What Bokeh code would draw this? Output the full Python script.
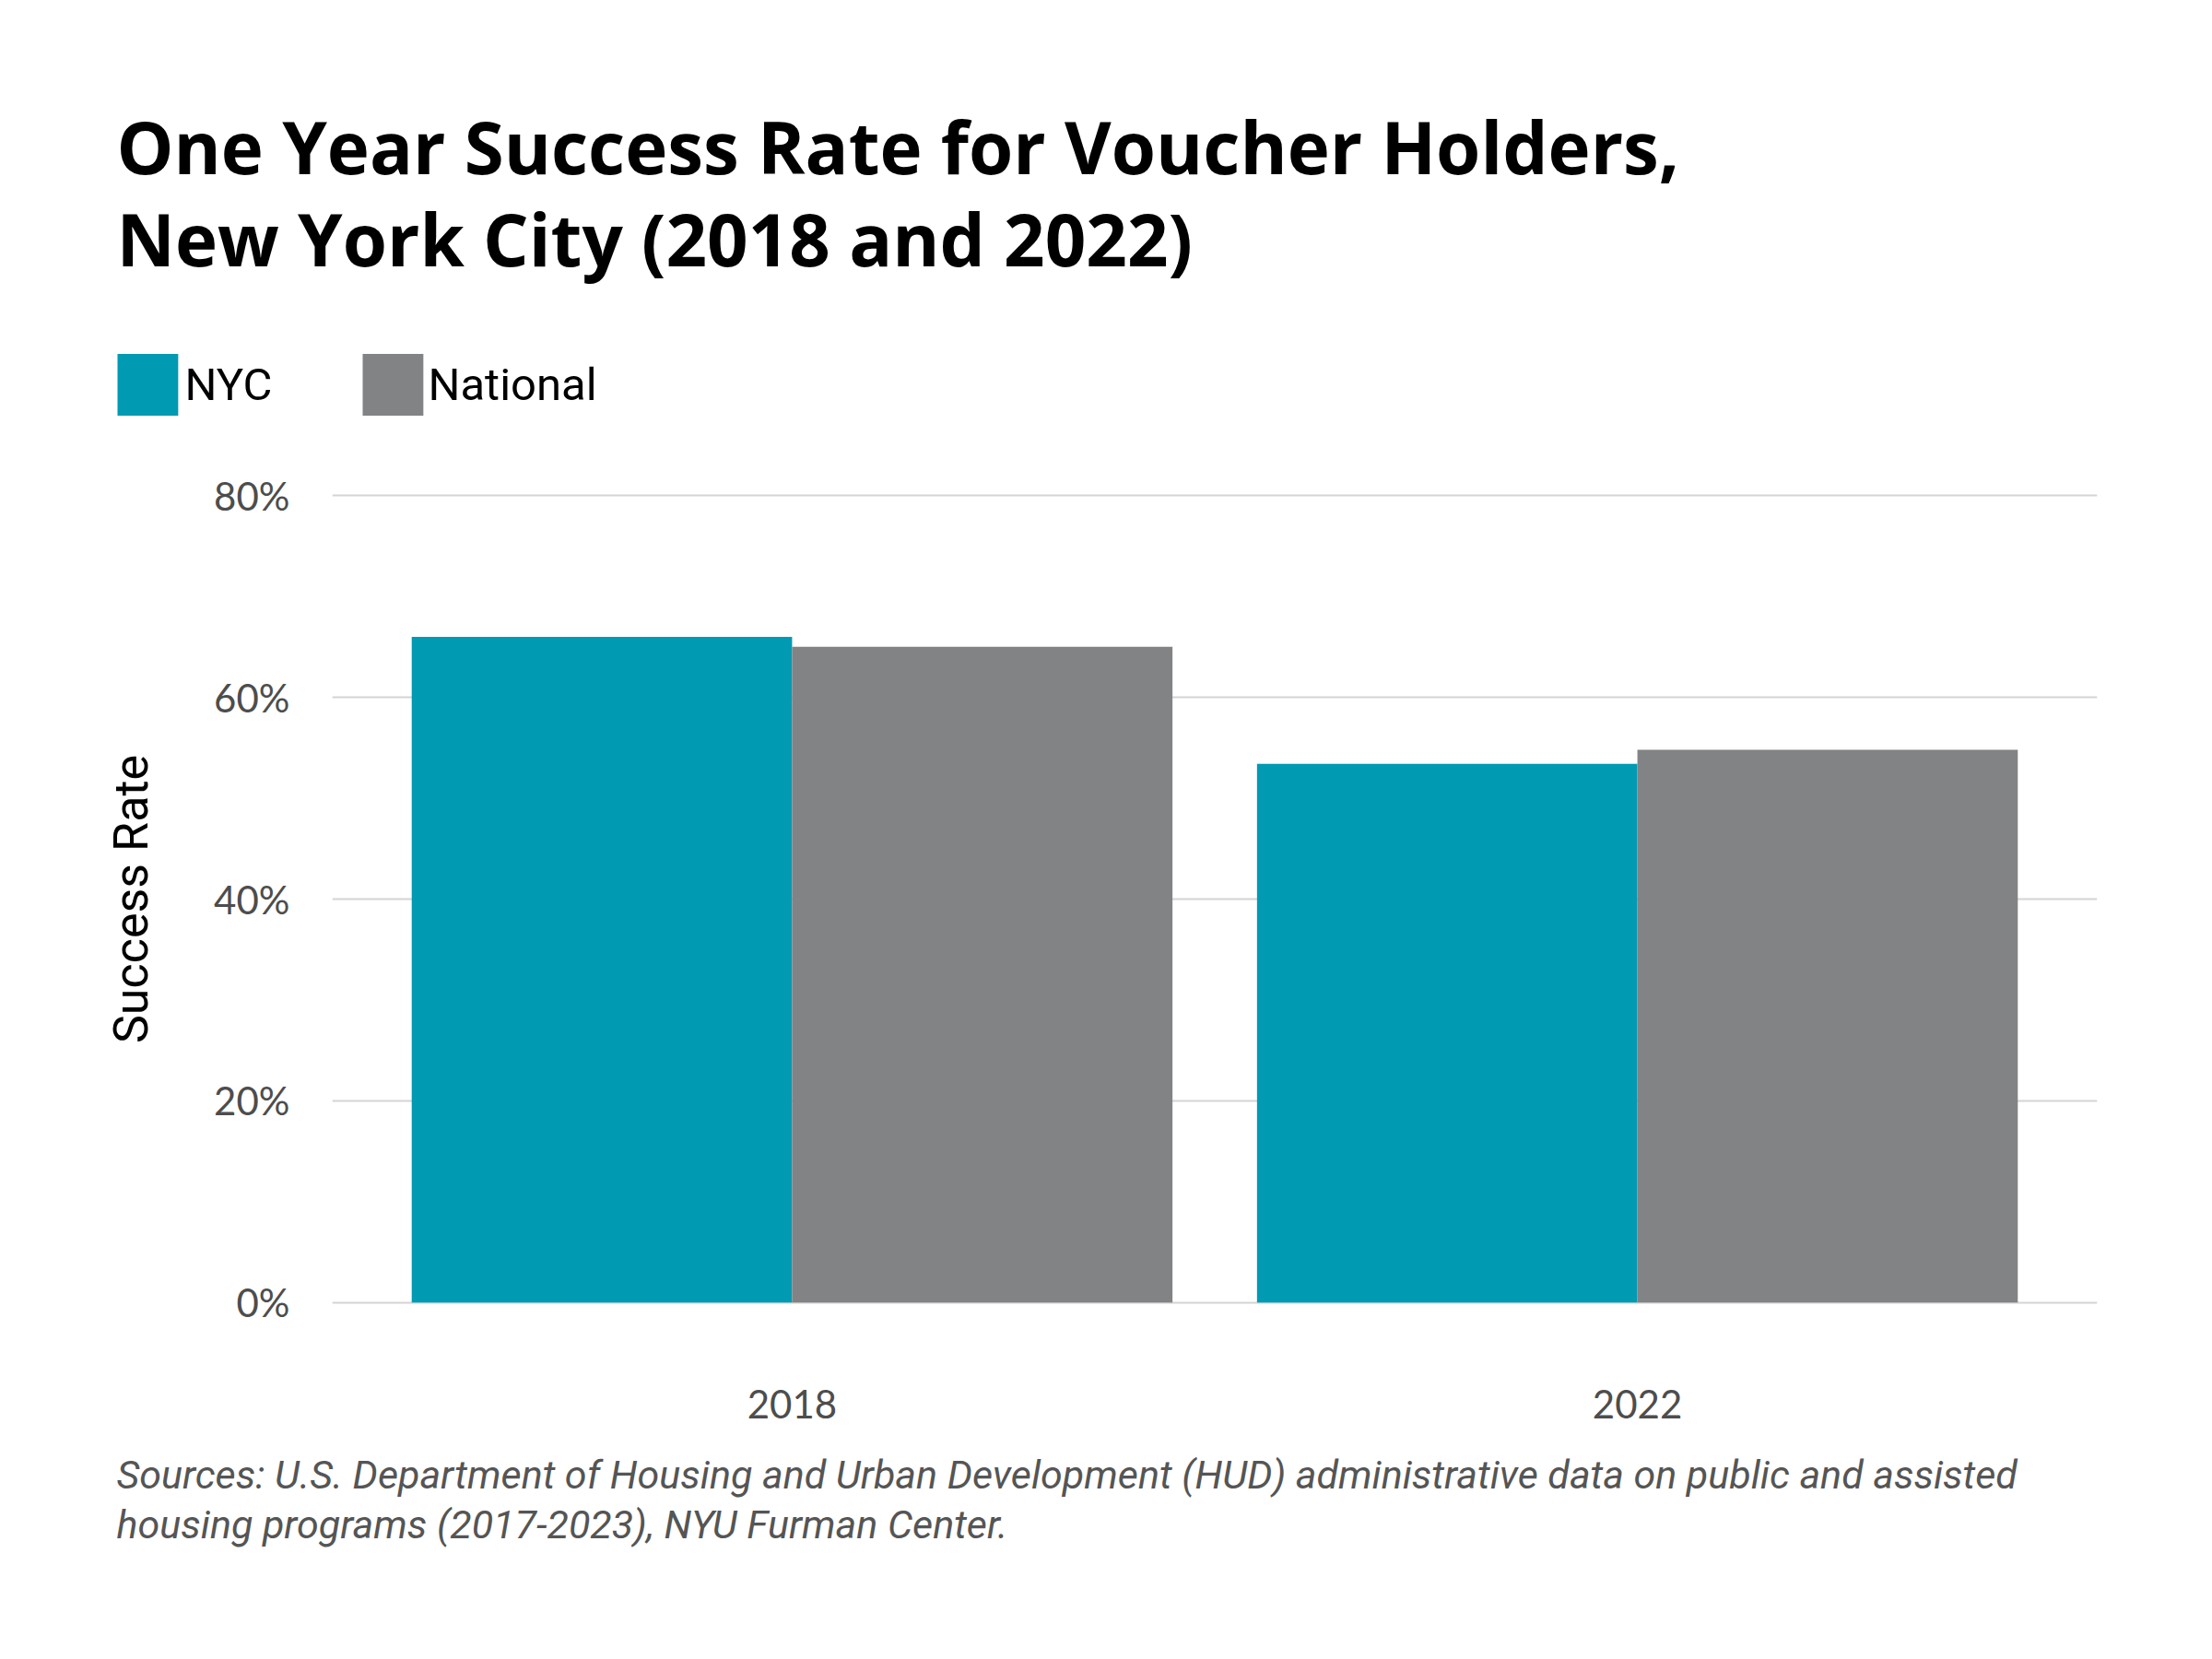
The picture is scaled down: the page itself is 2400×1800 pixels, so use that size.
from bokeh.plotting import figure
from bokeh.models import Range1d, FixedTicker, ColumnDataSource, Title
from bokeh.transform import dodge
from bokeh.embed import file_html
from bokeh.resources import INLINE

# ---- data ----
years = ["2018", "2022"]
nyc = [66.0, 53.4]
national = [65.0, 54.8]
series_names = ["NYC", "National"]
series_colors = ["#009ab2", "#828385"]
y_ticks = [0, 20, 40, 60, 80]
y_tick_labels = ["0%", "20%", "40%", "60%", "80%"]
title_lines = ["One Year Success Rate for Voucher Holders,",
               "New York City (2018 and 2022)"]
source_lines = ["Sources: U.S. Department of Housing and Urban Development (HUD) administrative data on public and assisted",
                "housing programs (2017-2023), NYU Furman Center."]
y_label = "Success Rate"

FRAME_LEFT = 360
FRAME_TOP = 535

xs = list(range(len(years)))
src = ColumnDataSource(dict(x=xs, nyc=nyc, national=national))

p = figure(width=2384, height=1784, output_backend="svg", toolbar_location=None,
           x_range=Range1d(-0.544, 1.544), y_range=Range1d(-0.2, 80.2),
           min_border_left=FRAME_LEFT, min_border_right=109, min_border_top=FRAME_TOP,
           min_border_bottom=369)
p.outline_line_color = None
p.background_fill_color = "white"
p.border_fill_color = "white"

bw = 0.45
r_nyc = p.vbar(x=dodge("x", -bw / 2), top="nyc", width=bw, bottom=0, source=src,
               fill_color=series_colors[0], line_color=None)
r_nat = p.vbar(x=dodge("x", bw / 2), top="national", width=bw, bottom=0, source=src,
               fill_color=series_colors[1], line_color=None)

p.xaxis.ticker = FixedTicker(ticks=xs)
p.xaxis.major_label_overrides = {i: y for i, y in enumerate(years)}
p.yaxis.ticker = FixedTicker(ticks=y_ticks)
p.yaxis.major_label_overrides = {t: l for t, l in zip(y_ticks, y_tick_labels)}
for ax in (p.xaxis, p.yaxis):
    ax.axis_line_color = None
    ax.major_tick_line_color = None
    ax.minor_tick_line_color = None
    ax.major_tick_out = 0
    ax.major_tick_in = 0
    ax.major_label_text_font = "Lato"
    ax.major_label_text_font_size = "42px"
    ax.major_label_text_color = "#4d4d4d"
p.xaxis.major_label_standoff = 92
p.yaxis.major_label_standoff = 46
p.yaxis.axis_label = y_label
p.yaxis.axis_label_text_font = "Roboto"
p.yaxis.axis_label_text_font_style = "normal"
p.yaxis.axis_label_text_font_size = "52px"
p.yaxis.axis_label_text_color = "black"
p.yaxis.axis_label_standoff = 56

p.xgrid.visible = False
p.ygrid.ticker = FixedTicker(ticks=y_ticks)
p.ygrid.grid_line_color = "#d4d4d4"
p.ygrid.grid_line_width = 2


# ---- helpers for text in the side panels ----
def spacer(size):
    # invisible title whose slot is `size` px tall
    return Title(text=" ", text_font="Roboto", text_font_size="1px",
                 standoff=size - 3.17, text_color="white")


def floating(text, font, px, style, color, left, ratio=1.171):
    # zero-height slot, text centred vertically on the slot position
    return Title(text=text, text_font=font, text_font_size=f"{px}px",
                 text_font_style=style, text_color=color, align="left",
                 offset=left - FRAME_LEFT, vertical_align="middle",
                 standoff=-(2 + px * ratio))


SW = 65.6  # legend swatch side


def swatch(color, left):
    # a tiny text box whose thick square-joined border forms the swatch
    return Title(text=" ", text_font="Roboto", text_font_size="1px",
                 text_color=color, align="left", offset=left + SW / 2 - FRAME_LEFT,
                 vertical_align="middle", standoff=-3.17,
                 background_fill_color=color, border_line_color=color,
                 border_line_width=SW, border_line_join="miter")


# above panel, listed from the frame outwards
LEG_Y = 417            # legend row centre
T2_Y = 257.75          # title line 2 centre
T1_Y = 157.75          # title line 1 centre
above = [spacer(FRAME_TOP - LEG_Y)]
for name, col, sx, lx in zip(series_names, series_colors, [127, 393], [200, 464]):
    above.append(swatch(col, sx))
    above.append(floating(name, "Roboto", 49, "normal", "black", lx))
above.append(spacer(LEG_Y - T2_Y))
above.append(floating(title_lines[1], "Open Sans", 78, "bold", "black", 126, ratio=1.362))
above.append(spacer(T2_Y - T1_Y))
above.append(floating(title_lines[0], "Open Sans", 78, "bold", "black", 126, ratio=1.362))
for a in above:
    p.add_layout(a, "above")

# below panel, after the x axis
AXIS_END = 1558
S1_Y = 1616
S2_Y = 1670
below = [spacer(S1_Y - AXIS_END),
         floating(source_lines[0], "Roboto", 43, "italic", "#555555", 126),
         spacer(S2_Y - S1_Y),
         floating(source_lines[1], "Roboto", 43, "italic", "#555555", 126)]
for b in below:
    p.add_layout(b, "below")

open("out.html", "w").write(file_html(p, INLINE))
